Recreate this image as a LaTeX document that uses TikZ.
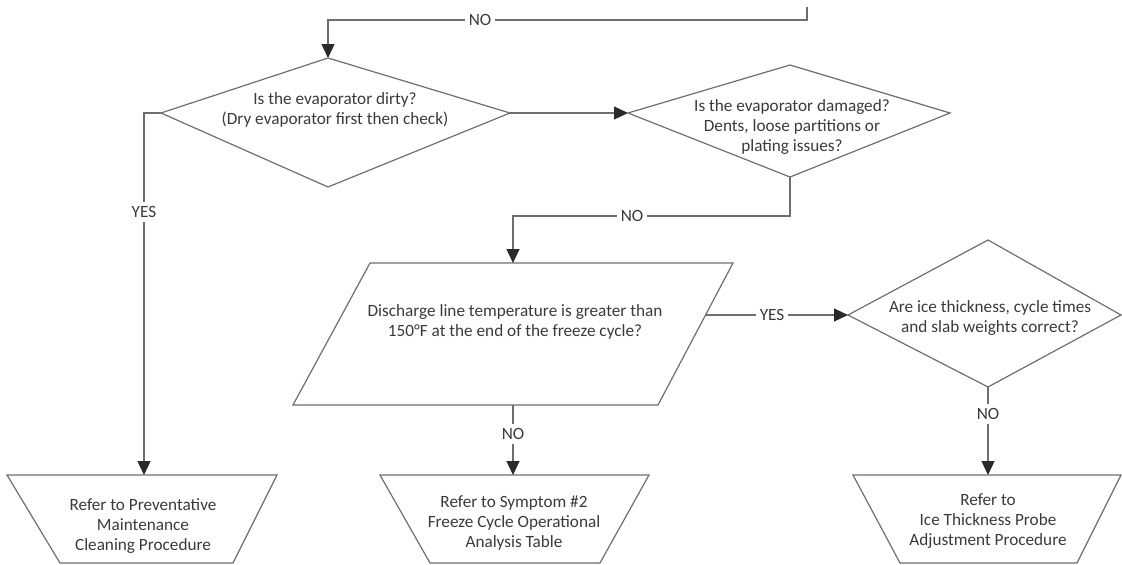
\documentclass[tikz,border=0pt]{standalone}
\usepackage{fontspec}
\setmainfont{Carlito}
\usetikzlibrary{arrows.meta}
\definecolor{linec}{HTML}{6E6E6E}
\definecolor{textc}{HTML}{3A3A3A}
\definecolor{tipc}{HTML}{2A2A2A}
\tikzset{
 shapeline/.style={draw=linec, line width=1.2pt, line join=miter},
 conn/.style={draw=linec, line width=1.2pt},
 arr/.style={conn, -{Triangle[length=14pt,width=13pt,color=tipc]}},
 txt/.style={text=textc, align=center, font=\fontsize{17.2}{20}\selectfont, inner sep=0pt},
 lbl/.style={text=textc, fill=white, font=\fontsize{17.2}{20}\selectfont, inner sep=4pt},
}
\begin{document}
\begin{tikzpicture}[x=1pt,y=-1pt]
\useasboundingbox (0,0) rectangle (1122,565);
% ---- vertices
\coordinate (d1t) at (328,58);  \coordinate (d1r) at (510,113);
\coordinate (d1b) at (328,187); \coordinate (d1l) at (161,113);
\coordinate (d2t) at (790,65);  \coordinate (d2r) at (950,113);
\coordinate (d2b) at (790,177); \coordinate (d2l) at (628,113);
\coordinate (d3t) at (988,240); \coordinate (d3r) at (1121,315);
\coordinate (d3b) at (988,387); \coordinate (d3l) at (848,315);
\coordinate (ptl) at (370,263); \coordinate (ptr) at (733,263);
\coordinate (pbr) at (658,405); \coordinate (pbl) at (293,405);
\coordinate (ptop) at (513,263); \coordinate (pbot) at (513,405);
\coordinate (pside) at (705.5,315);
\coordinate (t1tl) at (7,475);   \coordinate (t1tr) at (277,475);
\coordinate (t1br) at (233,563); \coordinate (t1bl) at (60,563);
\coordinate (t1top) at (144,475);
\coordinate (t2tl) at (380,475); \coordinate (t2tr) at (649,475);
\coordinate (t2br) at (600,563); \coordinate (t2bl) at (430,563);
\coordinate (t2top) at (513,475);
\coordinate (t3tl) at (853,475); \coordinate (t3tr) at (1121,475);
\coordinate (t3br) at (1077,563); \coordinate (t3bl) at (900,563);
\coordinate (t3top) at (988,475);
\coordinate (loopstart) at (807,7);
% ---- shapes
\draw[shapeline] (d1t) -- (d1r) -- (d1b) -- (d1l) -- cycle;
\draw[shapeline] (d2t) -- (d2r) -- (d2b) -- (d2l) -- cycle;
\draw[shapeline] (d3t) -- (d3r) -- (d3b) -- (d3l) -- cycle;
\draw[shapeline] (ptl) -- (ptr) -- (pbr) -- (pbl) -- cycle;
\draw[shapeline] (t1tl) -- (t1tr) -- (t1br) -- (t1bl) -- cycle;
\draw[shapeline] (t2tl) -- (t2tr) -- (t2br) -- (t2bl) -- cycle;
\draw[shapeline] (t3tl) -- (t3tr) -- (t3br) -- (t3bl) -- cycle;
% ---- texts
\node[txt] (d1text) at (335,110) {Is the evaporator dirty?\\(Dry evaporator first then check)};
\node[txt] (d2text) at (792,127) {Is the evaporator damaged?\\Dents, loose partitions or\\plating issues?};
\node[txt] (d3text) at (990,318) {Are ice thickness, cycle times\\and slab weights correct?};
\node[txt] (ptext) at (515,322) {Discharge line temperature is greater than\\150°F at the end of the freeze cycle?};
\node[txt] (t1text) at (143,526) {Refer to Preventative\\Maintenance\\Cleaning Procedure};
\node[txt] (t2text) at (514,523) {Refer to Symptom \#2\\Freeze Cycle Operational\\Analysis Table};
\node[txt] (t3text) at (988,521) {Refer to\\Ice Thickness Probe\\Adjustment Procedure};
% ---- connectors
\draw[arr] (loopstart) -- (loopstart |- 0,20) -| (d1t);
\draw[arr] (d1r) -- (d2l);
\draw[arr] (d1l) -- (t1top |- d1l) -- (t1top);
\draw[arr] (d2b) -- (d2b |- 0,216) -| (ptop);
\draw[arr] (pside) -- (d3l);
\draw[arr] (pbot) -- (t2top);
\draw[arr] (d3b) -- (t3top);
% ---- labels
\node[lbl] (no1) at (480,20) {NO};
\node[lbl] (yes1) at (144,212) {YES};
\node[lbl] (no2) at (632,216) {NO};
\node[lbl] (yes2) at (772,315) {YES};
\node[lbl] (no3) at (513,434) {NO};
\node[lbl] (no4) at (988,414) {NO};
\end{tikzpicture}
\end{document}
